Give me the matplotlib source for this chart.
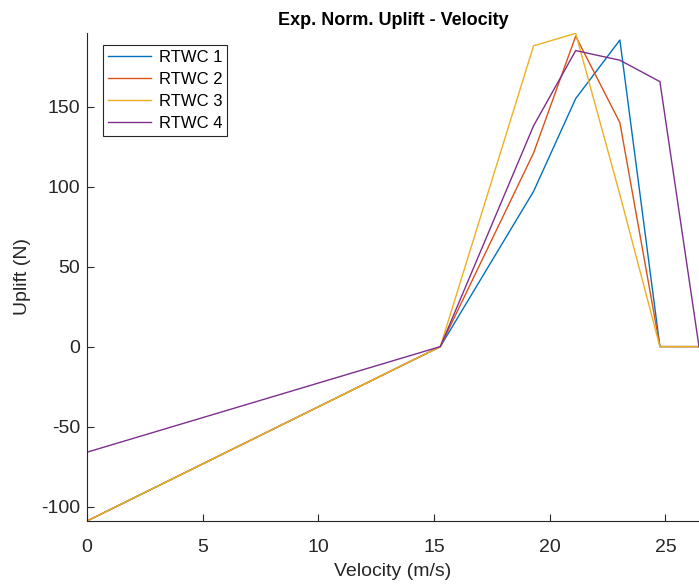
import numpy as np
import matplotlib.pyplot as plt

plt.rcParams['font.family'] = ['Liberation Sans', 'DejaVu Sans']
plt.rcParams['axes.unicode_minus'] = False

# Data
velocity = [0, 15.27, 19.3, 21.12, 23.03, 24.76, 26.45]
rtwc1 = [-109, 0, 97, 155, 191.6, 0, 0]
rtwc2 = [-109, 0, 121, 194, 140, 0, 0]
rtwc3 = [-109, 0, 188, 195.8, 95, 0, 0]
rtwc4 = [-66, 0, 138, 185, 179, 165.6, 0]
labels = ['RTWC 1', 'RTWC 2', 'RTWC 3', 'RTWC 4']
colors = ['#0072BD', '#D95319', '#EDB120', '#7E2F8E']

fig = plt.figure(figsize=(6.99, 5.85), dpi=100)
ax = fig.add_axes([0.1245, 0.1094, 0.8755, 0.8342])

for series, lab, col in zip([rtwc1, rtwc2, rtwc3, rtwc4], labels, colors):
    ax.plot(velocity, series, color=col, linewidth=1.0, label=lab)

ax.set_xlim(0, 26.45)
ax.set_ylim(-109, 196)
ax.set_xticks(np.arange(0, 26, 5))
ax.set_yticks([-100, -50, 0, 50, 100, 150])

grey = '#262626'
for side in ['top', 'right']:
    ax.spines[side].set_visible(False)
for side in ['left', 'bottom']:
    ax.spines[side].set_color(grey)
    ax.spines[side].set_linewidth(0.8)
ax.tick_params(direction='in', length=5, width=0.8, colors=grey, labelsize=14)
ax.tick_params(axis='x', pad=13)
ax.tick_params(axis='y', pad=5)

ax.set_xlabel('Velocity (m/s)', fontsize=14, color=grey, labelpad=5)
ax.set_ylabel('Uplift (N)', fontsize=14, color=grey, labelpad=7)
ax.set_title('Exp. Norm. Uplift - Velocity', fontsize=13, fontweight='bold',
             color='black', pad=6)

leg = ax.legend(loc='upper left', bbox_to_anchor=(0.026, 0.976), fontsize=12,
                fancybox=False, framealpha=1, edgecolor=grey,
                handlelength=2.6, handletextpad=0.45, borderpad=0.3,
                labelspacing=0.42, borderaxespad=0)
leg.get_frame().set_linewidth(0.8)

fig.savefig('out.png', dpi=100)
